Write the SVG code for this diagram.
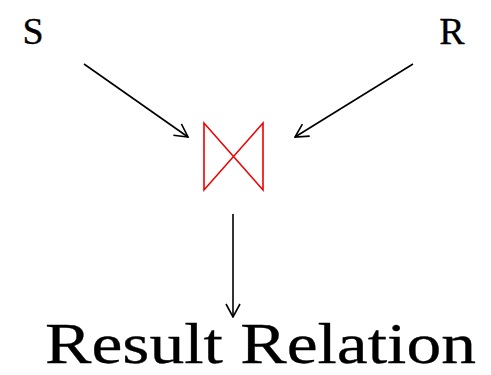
<svg xmlns="http://www.w3.org/2000/svg" width="491" height="375" viewBox="0 0 491 375">
<defs>
<marker id="arr" viewBox="0 0 20 20" refX="19" refY="10" markerWidth="20" markerHeight="20" markerUnits="userSpaceOnUse" orient="auto">
<path d="M6,3 L19,10 L6,17" fill="none" stroke="#000" stroke-width="1.6"/>
</marker>
<style>
.lbl{font-family:"Liberation Serif","DejaVu Serif",serif;fill:#000;stroke:#000;stroke-width:0.3}
.edge{stroke:#000;stroke-width:1.6;fill:none;marker-end:url(#arr)}
</style>
</defs>
<rect width="491" height="375" fill="#fff"/>
<g id="connectors">
<line class="edge" x1="84" y1="64" x2="188" y2="137"/>
<line class="edge" x1="413" y1="64" x2="295" y2="137"/>
<line class="edge" x1="233" y1="214" x2="233" y2="317"/>
</g>
<g id="S"><text class="lbl" x="33" y="44" font-size="38" text-anchor="middle">S</text></g>
<g id="R"><text class="lbl" x="452" y="44" font-size="38" text-anchor="middle">R</text></g>
<g id="join"><path d="M204,123 L204,190 L263,123 L263,190 Z" fill="none" stroke="#e00" stroke-width="1.6" stroke-linejoin="miter"/></g>
<g id="result"><text class="lbl" x="45" y="363" font-size="58" textLength="431" lengthAdjust="spacingAndGlyphs">Result Relation</text></g>
</svg>
